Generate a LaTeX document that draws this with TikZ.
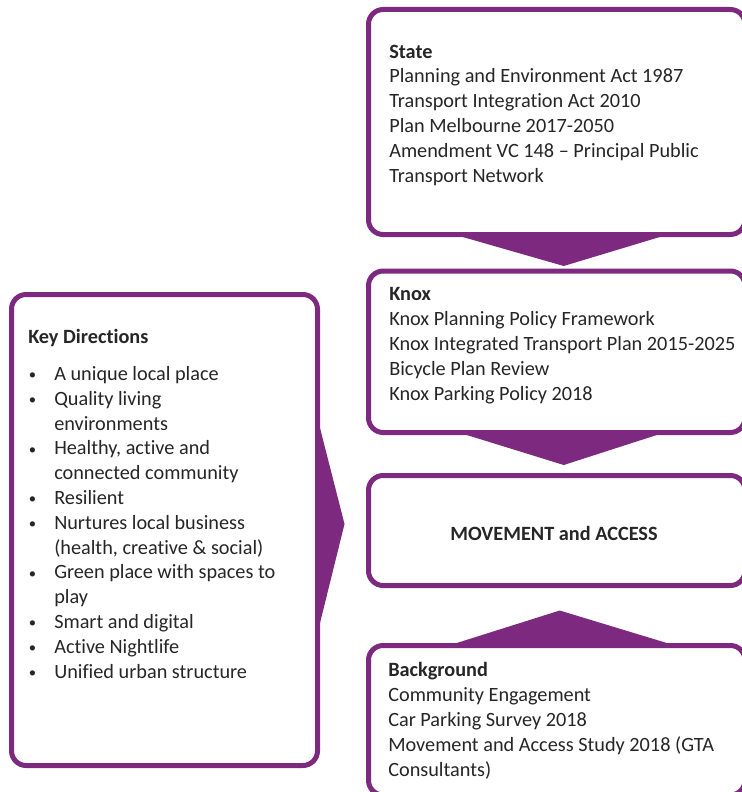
\documentclass[tikz,border=0pt]{standalone}
\usepackage{fontspec}
\setmainfont{Carlito}[Ligatures=NoCommon]
\usetikzlibrary{calc}
\definecolor{knoxpurple}{RGB}{125,41,128}
\tikzset{
    panel/.style={draw=knoxpurple, line width=3.75pt, rounded corners=11pt, fill=white, inner sep=0pt},
    chevron/.style={fill=knoxpurple},
    % anchored at the baseline of the last line
    body/.style={anchor=base west, align=left, inner sep=0pt, text=black!85,
        font=\fontsize{15.2}{18.6}\selectfont},
}
\newcommand{\kdbul}{\makebox[19.5pt][l]{\hspace{0.5pt}\raisebox{0.6pt}{\fontsize{11}{11}\selectfont\textbullet}}}
\newcommand{\kdgap}{\hspace*{19.5pt}}

\begin{document}
\begin{tikzpicture}[x=0.75pt,y=-0.75pt]
        \clip (0,0) rectangle (742,792);
        % panels
        \node[panel, minimum width=229.5pt, minimum height=353.25pt] (keydir) at (164.5,530) {};
        \node[panel, minimum width=282.375pt, minimum height=168.75pt] (state) at (556.75,122) {};
        \node[panel, minimum width=282.375pt, minimum height=121.125pt] (knox) at (556.75,351.75) {};
        \node[panel, minimum width=282.375pt, minimum height=82.5pt] (move) at (556.75,530.5) {};
        \node[panel, minimum width=282.375pt, minimum height=112.125pt] (backg) at (556.75,720.25) {};
        % arrows into the centre panel
        \fill[chevron] ($(state.south)+(-94,0)$) -- ($(state.south)+(7,29)$) -- ($(state.south)+(103,0)$) -- cycle;
        \fill[chevron] ($(knox.south)+(-90,0)$) -- ($(knox.south)+(7,30)$) -- ($(knox.south)+(100,0)$) -- cycle;
        \fill[chevron] ($(backg.north)+(-100,0)$) -- ($(backg.north)+(3,-32.5)$) -- ($(backg.north)+(110,0)$) -- cycle;
        \fill[chevron] ($(keydir.east)+(0,-102)$) -- ($(keydir.east)+(24.5,-6)$) -- ($(keydir.east)+(0,93)$) -- cycle;
        % texts
        \node[body] (statetxt) at (389,182) {\textbf{State}\\
            Planning and Environment Act 1987\\
            Transport Integration Act 2010\\
            Plan Melbourne 2017-2050\\
            Amendment VC 148 – Principal Public\\
            Transport Network};
        \node[body] (knoxtxt) at (389,400) {\textbf{Knox}\\
            Knox Planning Policy Framework\\
            Knox Integrated Transport Plan 2015-2025\\
            Bicycle Plan Review\\
            Knox Parking Policy 2018};
        \node[body, anchor=base] (movetxt) at (554,540) {\textbf{MOVEMENT and ACCESS}};
        \node[body] (backgtxt) at (388,776) {\textbf{Background}\\
            Community Engagement\\
            Car Parking Survey 2018\\
            Movement and Access Study 2018 (GTA\\
            Consultants)};
        \node[body] (kdtxt) at (28,678) {\textbf{Key Directions}\\[9pt]
            \kdbul A unique local place\\
            \kdbul Quality living\\
            \kdgap environments\\
            \kdbul Healthy, active and\\
            \kdgap connected community\\
            \kdbul Resilient\\
            \kdbul Nurtures local business\\
            \kdgap (health, creative \& social)\\
            \kdbul Green place with spaces to\\
            \kdgap play\\
            \kdbul Smart and digital\\
            \kdbul Active Nightlife\\
            \kdbul Unified urban structure};
    \end{tikzpicture}
\end{document}
